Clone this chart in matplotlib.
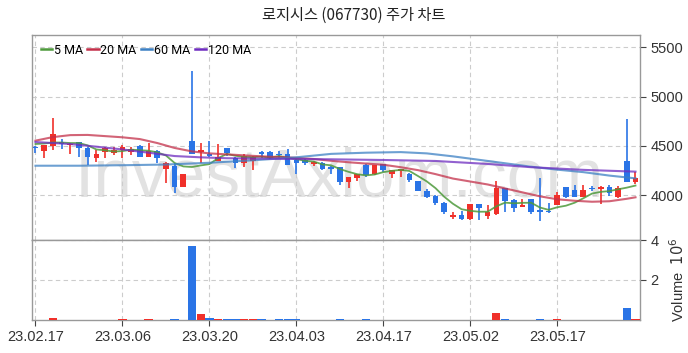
import matplotlib
matplotlib.use("Agg")
import matplotlib.pyplot as plt

# === data ===
months = {
    "02": [17, 20, 21, 22, 23, 24, 27, 28],
    "03": [2, 3, 6, 7, 8, 9, 10, 13, 14, 15, 16, 17, 20, 21, 22, 23, 24, 27, 28, 29, 30, 31],
    "04": [3, 4, 5, 6, 7, 10, 11, 12, 13, 14, 17, 18, 19, 20, 21, 24, 25, 26, 27, 28],
    "05": [2, 3, 4, 8, 9, 10, 11, 12, 15, 16, 17, 18, 19, 22, 23, 24, 25, 26, 30, 31],
}
dates = ["23.%s.%02d" % (m, d) for m in months for d in months[m]]

opens = [4490, 4452, 4503, 4537, 4505, 4537, 4483, 4375, 4442, 4432,
         4460, 4442, 4500, 4391, 4452, 4263, 4297, 4087, 4551, 4440,
         4419, 4351, 4476, 4381, 4331, 4348, 4442, 4442, 4420, 4419,
         4358, 4358, 4314, 4331, 4290, 4284, 4138, 4179, 4307, 4216,
         4314, 4213, 4250, 4216, 4148, 4047, 3993, 3919, 3783, 3800,
         3760, 3909, 3794, 3810, 4071, 3952, 3885, 3959, 3851, 3845,
         3902, 4081, 4054, 3986, 4077, 4067, 4081, 3986, 4347, 4138]
highs = [4500, 4515, 4780, 4568, 4535, 4540, 4490, 4460, 4490, 4490,
         4510, 4490, 4510, 4527, 4460, 4335, 4324, 4216, 5260, 4527,
         4551, 4517, 4480, 4385, 4420, 4395, 4452, 4445, 4450, 4470,
         4365, 4365, 4345, 4340, 4295, 4290, 4189, 4220, 4320, 4310,
         4320, 4260, 4266, 4230, 4150, 4060, 4000, 3930, 3830, 3840,
         3910, 3915, 3900, 4148, 4075, 3965, 3960, 3962, 4180, 3925,
         4030, 4085, 4104, 4104, 4095, 4095, 4100, 4095, 4771, 4240]
lows = [4426, 4375, 4460, 4466, 4420, 4391, 4307, 4340, 4375, 4405,
        4375, 4405, 4385, 4385, 4324, 4121, 4020, 4087, 4415, 4331,
        4390, 4345, 4395, 4280, 4290, 4256, 4380, 4370, 4375, 4305,
        4213, 4310, 4300, 4255, 4216, 4104, 4074, 4148, 4185, 4210,
        4240, 4179, 4185, 4140, 4040, 3975, 3900, 3810, 3765, 3755,
        3755, 3750, 3760, 3800, 3834, 3834, 3880, 3807, 3742, 3825,
        3900, 3975, 3980, 3980, 4040, 3909, 3995, 3970, 4135, 4110]
closes = [4480, 4510, 4622, 4520, 4520, 4476, 4391, 4419, 4476, 4460,
          4493, 4465, 4391, 4452, 4381, 4331, 4087, 4216, 4419, 4460,
          4398, 4391, 4426, 4331, 4398, 4391, 4415, 4375, 4410, 4311,
          4324, 4331, 4338, 4263, 4263, 4138, 4189, 4216, 4206, 4307,
          4256, 4256, 4263, 4155, 4044, 3986, 3919, 3828, 3800, 3760,
          3909, 3875, 3828, 4071, 3945, 3875, 3902, 3834, 3828, 3828,
          4003, 3980, 3986, 4054, 4066, 4087, 4020, 4077, 4138, 4172]
volumes = [0.02, 0.02, 0.12, 0.02, 0.02, 0.02, 0.02, 0.02, 0.02, 0.02,
           0.05, 0.02, 0.02, 0.05, 0.02, 0.02, 0.03, 0.02, 3.70, 0.30,
           0.10, 0.05, 0.05, 0.05, 0.05, 0.05, 0.05, 0.02, 0.05, 0.05,
           0.05, 0.02, 0.02, 0.02, 0.02, 0.05, 0.02, 0.02, 0.05, 0.02,
           0.02, 0.02, 0.02, 0.02, 0.02, 0.02, 0.02, 0.02, 0.02, 0.02,
           0.02, 0.02, 0.02, 0.35, 0.05, 0.02, 0.02, 0.02, 0.05, 0.02,
           0.05, 0.02, 0.02, 0.02, 0.02, 0.02, 0.02, 0.02, 0.62, 0.05]

ma5 = [4520, 4525, 4535, 4535, 4530, 4530, 4506, 4465, 4456, 4444,
       4448, 4463, 4457, 4452, 4436, 4404, 4328, 4293, 4287, 4303,
       4316, 4377, 4419, 4401, 4389, 4387, 4392, 4382, 4398, 4380,
       4367, 4350, 4343, 4313, 4304, 4267, 4238, 4214, 4202, 4211,
       4235, 4248, 4258, 4247, 4195, 4141, 4073, 3986, 3915, 3859,
       3843, 3834, 3834, 3889, 3926, 3919, 3924, 3925, 3877, 3853,
       3879, 3895, 3925, 3970, 4018, 4035, 4043, 4061, 4078, 4099]
ma20_x = [0, 2, 4, 6, 8, 10, 12, 14, 16, 18, 20, 22, 24, 26, 28, 30, 32, 34,
          36, 38, 40, 42, 44, 46, 48, 50, 52, 54, 56, 58, 60, 62, 64, 66, 68, 69]
ma20 = [4554, 4590, 4610, 4612, 4600, 4588, 4570, 4530, 4480, 4445, 4425, 4415,
        4405, 4395, 4388, 4380, 4368, 4350, 4335, 4322, 4310, 4285, 4255, 4215,
        4170, 4140, 4110, 4070, 4030, 3990, 3960, 3945, 3935, 3940, 3965, 3980]
ma60_x = [0, 5, 10, 15, 20, 25, 30, 34, 38, 42, 45, 48, 51, 54, 57, 60, 63, 66, 69]
ma60 = [4300, 4300, 4305, 4312, 4330, 4355, 4385, 4420, 4432, 4438, 4425, 4395,
        4360, 4325, 4290, 4260, 4235, 4200, 4172]
ma120_x = [0, 4, 7, 10, 13, 16, 19, 22, 28, 34, 40, 46, 52, 57, 63, 69]
ma120 = [4540, 4520, 4493, 4465, 4432, 4398, 4385, 4376, 4370, 4365, 4358, 4348,
         4318, 4285, 4258, 4240]

red = "#f0302a"
blue = "#2a74e6"
grid_kw = dict(color="#cccccc", linestyle=(0, (4, 3)), linewidth=0.8)
tick_font = ["Liberation Sans Narrow", "Liberation Sans", "DejaVu Sans"]

fig = plt.figure(figsize=(6.88, 3.53), dpi=100)
ax = fig.add_axes([0.0465, 0.320, 0.8835, 0.581])
axv = fig.add_axes([0.0465, 0.0935, 0.8835, 0.2266], sharex=ax)

x = list(range(len(closes)))
colors = [red if c >= o else blue for o, c in zip(opens, closes)]

# candles
ax.vlines(x, lows, highs, colors=colors, linewidth=1.2, zorder=3)
bottoms = [min(o, c) for o, c in zip(opens, closes)]
heights = [max(abs(c - o), 8) for o, c in zip(opens, closes)]
ax.bar(x, heights, bottom=bottoms, width=0.65, color=colors, zorder=4)

# moving averages
ax.plot(x, ma5, color="#4e9a3c", lw=1.3, alpha=0.85, label="5 MA", zorder=5)
ax.plot(ma20_x, ma20, color="#c4304a", lw=1.5, alpha=0.75, label="20 MA", zorder=5)
ax.plot(ma60_x, ma60, color="#3c80c4", lw=1.5, alpha=0.75, label="60 MA", zorder=5)
ax.plot(ma120_x, ma120, color="#6e2cc0", lw=1.5, alpha=0.75, label="120 MA", zorder=5)

ax.text(0.505, 0.30, "InvestAxiom.com", transform=ax.transAxes, fontsize=50,
        color="#e2e2e2", ha="center", va="center", family="Liberation Sans", zorder=1)

ax.set_xlim(-0.4, 69.5)
ax.set_ylim(3547, 5625)
ax.set_yticks([4000, 4500, 5000, 5500])
ax.yaxis.tick_right()
ax.grid(True, **grid_kw)
ax.tick_params(axis="x", which="both", bottom=False, labelbottom=False)
ax.tick_params(axis="y", direction="out", length=4, color="#444444", labelsize=10.5,
               labelcolor="#333333")
for lab in ax.get_yticklabels():
    lab.set_family(tick_font)

leg = ax.legend(loc="upper left", ncol=4, frameon=False,
                handlelength=0.9, handletextpad=0.15, columnspacing=0.35,
                borderaxespad=0.3, prop={"family": ["Roboto", "DejaVu Sans"], "size": 9})
for line in leg.get_lines():
    line.set_linewidth(1.8)
    line.set_alpha(1)

# volume
axv.bar(x, [v * 1e6 for v in volumes], width=0.95, color=colors, zorder=3)
axv.set_ylim(0, 4.0e6)
axv.set_yticks([2e6, 4e6])
axv.set_yticklabels(["2", "4"])
axv.yaxis.tick_right()
axv.yaxis.set_label_position("right")
axv.set_ylabel(r"Volume  $10^6$", fontsize=10.5, color="#333333", family=tick_font, labelpad=7)
axv.grid(True, **grid_kw)
axv.set_xticks(x[::10])
axv.set_xticklabels(dates[::10])
axv.tick_params(axis="both", direction="out", length=4, color="#444444", labelsize=10.5,
                labelcolor="#333333")
for lab in axv.get_xticklabels() + axv.get_yticklabels():
    lab.set_family(tick_font)

for a in (ax, axv):
    for s in a.spines.values():
        s.set_color("#999999")
        s.set_linewidth(1.0)

fig.text(0.514, 0.957, "로지시스 (067730) 주가 차트", ha="center", va="center",
         fontsize=11, family=["Noto Sans CJK KR", "DejaVu Sans"], color="#222222")

fig.savefig("out.png", dpi=100)
